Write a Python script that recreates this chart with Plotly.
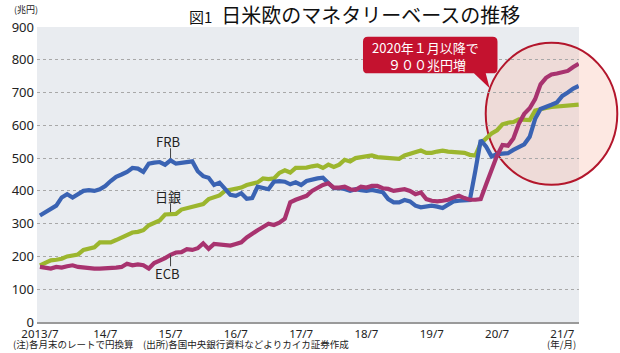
import plotly.graph_objects as go

# ---- data (兆円, month-end, 2013/7 .. 2021/10) ----
frb = [325, 335, 345, 355, 380, 390, 380, 390, 400, 402,
       400, 405, 415, 430, 443, 450, 458, 470, 468, 458,
       483, 486, 488, 480, 493, 483, 486, 490, 490, 460,
       445, 440, 418, 425, 405, 388, 385, 393, 376, 378,
       413, 408, 405, 428, 430, 428, 420, 426, 418, 430,
       435, 438, 440, 425, 408, 408, 406, 400, 405, 402,
       400, 403, 400, 396, 375, 365, 365, 372, 368, 355,
       350, 352, 355, 352, 348, 358, 368, 370, 370, 372,
       460, 555, 535, 505, 512, 515, 515, 525, 535, 542,
       565, 620, 650, 655, 663, 670, 690, 700, 712, 720]
boj = [173, 180, 188, 190, 193, 200, 203, 206, 220, 225,
       228, 243, 243, 243, 250, 258, 268, 273, 275, 280,
       295, 303, 310, 328, 328, 330, 343, 348, 353, 356,
       360, 375, 380, 386, 400, 403, 405, 410, 418, 422,
       426, 438, 436, 438, 455, 463, 456, 470, 470, 471,
       475, 478, 470, 480, 473, 480, 495, 490, 500, 503,
       505, 508, 503, 502, 500, 498, 498, 508, 513, 515,
       523, 516, 516, 520, 523, 520, 518, 516, 516, 510,
       508, 545, 562, 575, 585, 603, 608, 610, 618, 618,
       616, 645, 650, 653, 656, 658, 660, 662, 663, 663]
ecb = [168, 165, 163, 168, 166, 170, 173, 168, 166, 163,
       163, 163, 163, 164, 166, 168, 178, 173, 176, 173,
       163, 180, 186, 195, 205, 212, 213, 222, 220, 225,
       240, 223, 238, 236, 236, 233, 238, 243, 258, 270,
       280, 290, 300, 296, 303, 315, 365, 373, 378, 385,
       400, 410, 418, 423, 410, 410, 413, 405, 403, 413,
       410, 415, 415, 408, 406, 400, 402, 405, 400, 390,
       395, 375, 370, 368, 370, 373, 380, 385, 378, 373,
       373, 375, 420, 465, 508, 540, 538, 560, 605, 635,
       652, 680, 725, 745, 755, 758, 762, 766, 778, 788]
months = list(range(len(frb)))
tick_pos = [0, 12, 24, 36, 48, 60, 72, 84, 96]
tick_text = ["2013/7", "14/7", "15/7", "16/7", "17/7", "18/7", "19/7", "20/7", "21/7"]
y_ticks = [0, 100, 200, 300, 400, 500, 600, 700, 800, 900]

FONT = "Noto Sans CJK JP"
NUMFONT = "Noto Sans"
W, H = 620, 353
L, R, T, B = 27, 579, 27, 326  # plot area in px


def px(x):
    return (x - L) / (R - L)


def py(y):
    return (B - y) / (B - T)


fig = go.Figure()
for vals, col in [(boj, "#9cb62e"), (frb, "#3a63b3"), (ecb, "#a8336f")]:
    fig.add_trace(go.Scatter(x=months, y=vals, mode="lines",
                             line=dict(color=col, width=4.2),
                             hoverinfo="skip", showlegend=False))

fig.update_layout(
    width=W, height=H,
    margin=dict(l=L, r=W - R, t=T, b=H - B),
    paper_bgcolor="white", plot_bgcolor="#e9ecf0",
    font=dict(family=FONT, color="#222222"),
    xaxis=dict(range=[-0.54, 99.06], tickvals=tick_pos, ticktext=tick_text,
               showgrid=False, zeroline=False, showline=True,
               linecolor="#9a9a9a", linewidth=2, ticks="",
               tickfont=dict(size=11.5, family=NUMFONT), ticklabelstandoff=0),
    yaxis=dict(range=[0, 900], tickvals=y_ticks, showgrid=True,
               gridcolor="#a8a8a8", griddash="dot", gridwidth=1,
               zeroline=False, showline=False, ticks="",
               tickfont=dict(size=13, family=NUMFONT), ticklabelstandoff=2),
)

# highlight circle (ellipse)
fig.add_shape(type="circle", xref="paper", yref="paper",
              x0=px(484), x1=px(618), y0=py(187), y1=py(43),
              fillcolor="rgba(248,185,165,0.32)",
              line=dict(color="#b3162c", width=2), layer="below")

# callout box with pointer
bx0, bx1, by0, by1, r = 359, 496, 37, 74, 5
path = (f"M {px(bx0 + r)} {py(by0)} L {px(bx1 - r)} {py(by0)} "
        f"Q {px(bx1)} {py(by0)} {px(bx1)} {py(by0 + r)} "
        f"L {px(bx1)} {py(by1 - r)} Q {px(bx1)} {py(by1)} {px(bx1 - r)} {py(by1)} "
        f"L {px(484)} {py(by1)} L {px(488)} {py(89)} L {px(472)} {py(by1)} "
        f"L {px(bx0 + r)} {py(by1)} Q {px(bx0)} {py(by1)} {px(bx0)} {py(by1 - r)} "
        f"L {px(bx0)} {py(by0 + r)} Q {px(bx0)} {py(by0)} {px(bx0 + r)} {py(by0)} Z")
fig.add_shape(type="path", xref="paper", yref="paper", path=path,
              fillcolor="#c4122f", line=dict(width=0), layer="above")
fig.add_annotation(xref="paper", yref="paper", x=px(366), y=py(56),
                   xanchor="left", yanchor="middle", showarrow=False, align="left",
                   text="2020年１月以降で<br>　 ９００兆円増",
                   font=dict(size=13, color="white", family=FONT))

# series labels with leader lines (data coords)
labels = [("FRB", 24, 500, 530, 550), ("日銀", 24, 335, 362, 382), ("ECB", 24, 205, 170, 147)]
for name, mx, y0, y1, ty in labels:
    fig.add_shape(type="line", xref="x", yref="y", x0=mx, x1=mx, y0=y0, y1=y1,
                  line=dict(color="#444444", width=1))
    fig.add_annotation(xref="x", yref="y", x=mx - 0.5, y=ty, showarrow=False,
                       text=name, font=dict(size=13, family=FONT, color="#222"))

# title
fig.add_annotation(xref="paper", yref="paper", x=px(350), y=py(14),
                   xanchor="center", yanchor="middle", showarrow=False,
                   text="<span style='font-size:15px'>図1</span>  日米欧のマネタリーベースの推移",
                   font=dict(size=20, family=FONT, color="#111"))
# unit
fig.add_annotation(xref="paper", yref="paper", x=px(2), y=py(9),
                   xanchor="left", yanchor="middle", showarrow=False,
                   text="(兆円)", font=dict(size=9, family=FONT, color="#222"))
# footnote
fig.add_annotation(xref="paper", yref="paper", x=px(1), y=py(348),
                   xanchor="left", yanchor="middle", showarrow=False,
                   text="(注)各月末のレートで円換算　(出所)各国中央銀行資料などよりカイカ証券作成",
                   font=dict(size=9.5, family=FONT, color="#222"))
fig.add_annotation(xref="paper", yref="paper", x=px(578), y=py(348),
                   xanchor="right", yanchor="middle", showarrow=False,
                   text="(年/月)", font=dict(size=9.5, family=FONT, color="#222"))

fig.write_html("out.html")
